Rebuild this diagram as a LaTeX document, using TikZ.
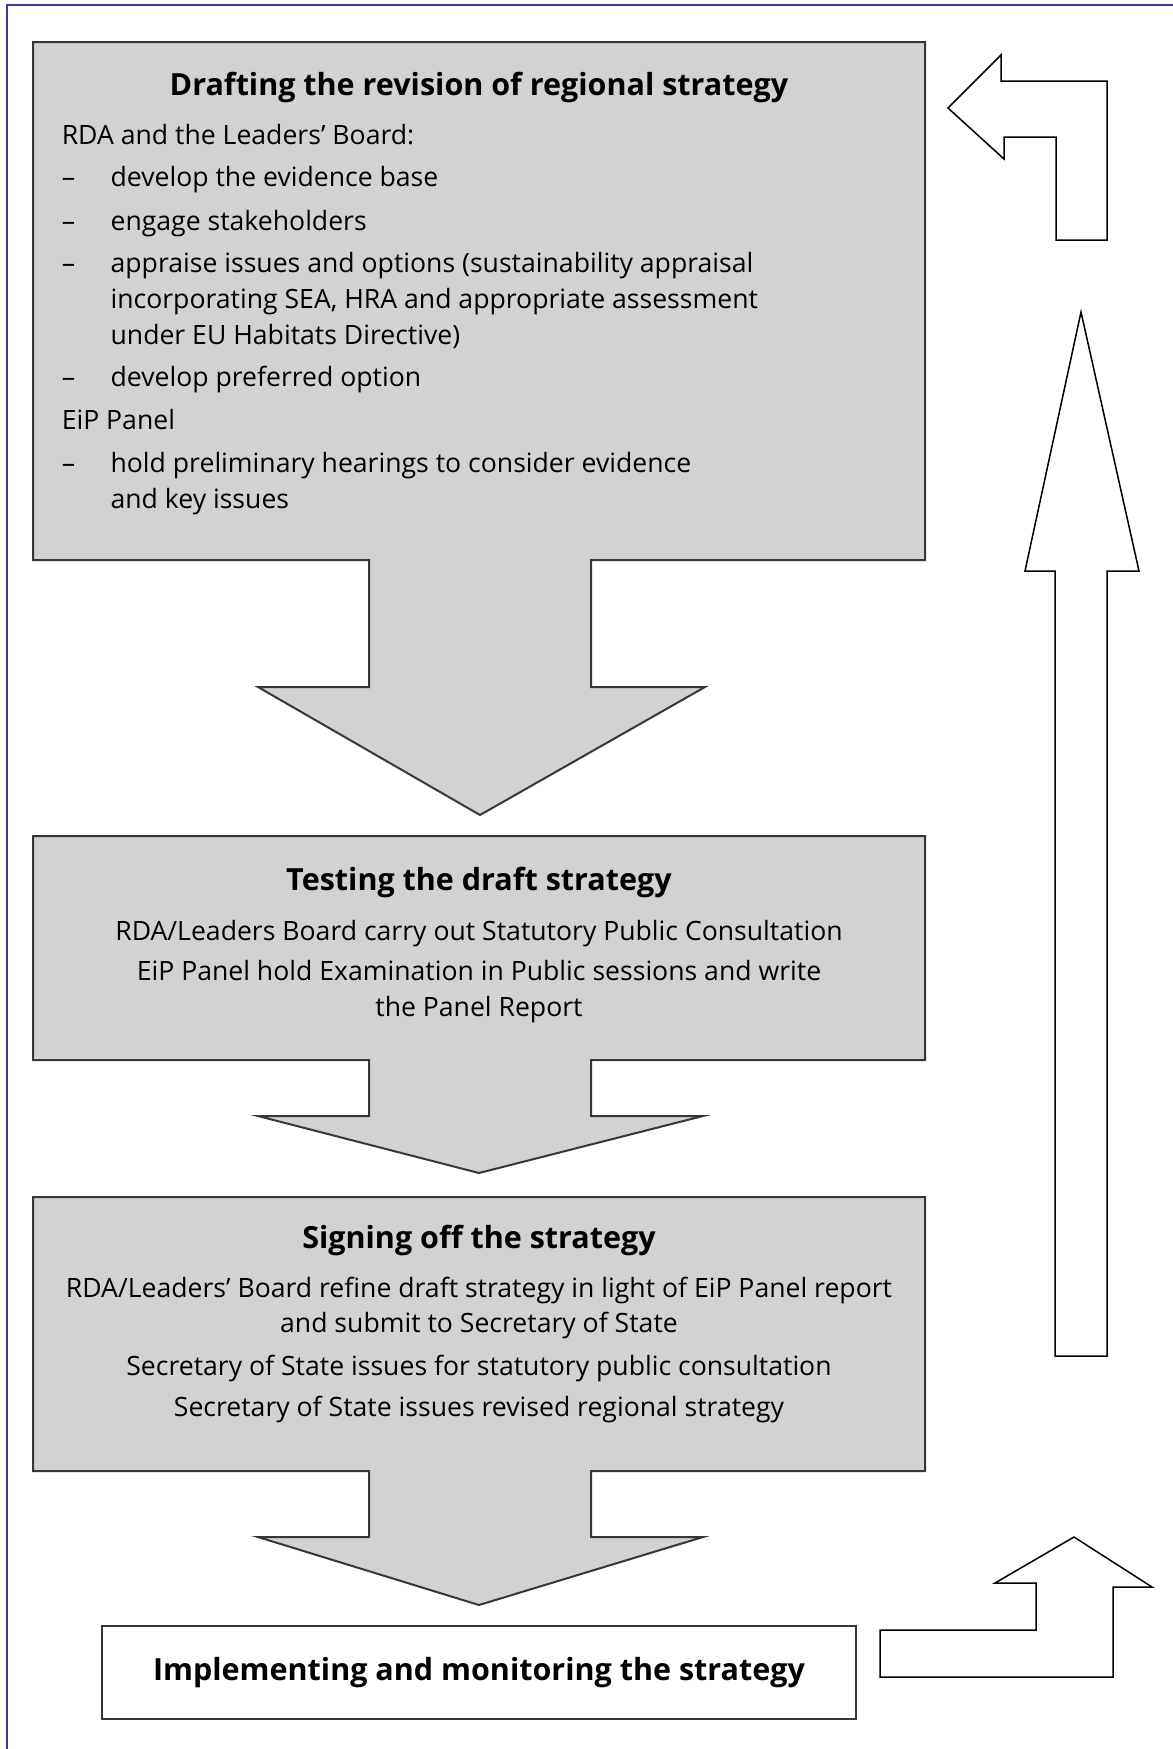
\documentclass[tikz,border=0pt]{standalone}
\usepackage{fontspec}
\setmainfont{Open Sans}
\usetikzlibrary{positioning}
\definecolor{stagegrey}{RGB}{209,211,211}
\definecolor{framepurple}{RGB}{58,56,150}
\definecolor{edgegrey}{RGB}{55,55,55}
\newcommand{\bodyfont}{\fontsize{26.6}{36}\selectfont}
\newcommand{\headfont}{\fontsize{30.5}{36}\selectfont\bfseries}
\begin{document}
\begin{tikzpicture}[
  x=1pt, y=-1pt,
  stage/.style={fill=stagegrey, draw=edgegrey, line width=2pt, line join=miter},
  cycle arrow/.style={fill=white, draw=black, line width=1.5pt, line join=miter},
  heading/.style={font=\headfont, inner sep=0pt, anchor=base},
  body/.style={font=\bodyfont, inner sep=0pt, anchor=base west},
  centred/.style={font=\bodyfont, inner sep=0pt, anchor=base},
  listdash/.style={font=\bodyfont, inner sep=0pt, anchor=base west}
]
\useasboundingbox (0,0) rectangle (1173,1749);
% page frame
\draw[framepurple, line width=2pt] (7,1749) -- (7,5) -- (1173,5);

% Stage outlines with their down arrows
\filldraw[stage] (33,42) -- (925,42) -- (925,560) -- (591,560) -- (591,687) -- (705,687)
  -- (480,815) -- (258,687) -- (369,687) -- (369,560) -- (33,560) -- cycle;
\filldraw[stage] (33,836) -- (925,836) -- (925,1060) -- (591,1060) -- (591,1116) -- (703,1116)
  -- (479,1173) -- (258,1116) -- (369,1116) -- (369,1060) -- (33,1060) -- cycle;
\filldraw[stage] (33,1197) -- (925,1197) -- (925,1471) -- (591,1471) -- (591,1537) -- (703,1537)
  -- (479,1605) -- (258,1537) -- (369,1537) -- (369,1471) -- (33,1471) -- cycle;

% Drafting
\node[heading] (drafthead) at (479,95) {Drafting the revision of regional strategy};
\node[body] (rda) at (61.6,144) {RDA and the Leaders’ Board:};
\node[listdash] (dash1) at (61.6,186.7) {–};
\node[body] (evidence) at (110.4,186.7) {develop the evidence base};
\node[listdash] (dash2) at (61.6,230) {–};
\node[body] (engage) at (110.4,230) {engage stakeholders};
\node[listdash] (dash3) at (61.6,272.3) {–};
\node[body] (appraiseA) at (110.4,272.3) {appraise issues and options (sustainability appraisal};
\node[body] (appraiseB) at (110.4,308.3) {incorporating SEA, HRA and appropriate assessment};
\node[body] (appraiseC) at (110.4,344) {under EU Habitats Directive)};
\node[listdash] (dash4) at (61.6,386.7) {–};
\node[body] (preferred) at (110.4,386.7) {develop preferred option};
\node[body] (eip) at (61.6,429.3) {EiP Panel};
\node[listdash] (dash5) at (61.6,472.3) {–};
\node[body] (hearingsA) at (110.4,472.3) {hold preliminary hearings to consider evidence};
\node[body] (hearingsB) at (110.4,508) {and key issues};

% Testing
\node[heading] (testhead) at (479,890) {Testing the draft strategy};
\node[centred] (consult) at (479,940) {RDA/Leaders Board carry out Statutory Public Consultation};
\node[centred] (examA) at (479,980) {EiP Panel hold Examination in Public sessions and write};
\node[centred] (examB) at (479,1016.7) {the Panel Report};

% Signing off
\node[heading] (signhead) at (479,1248) {Signing off the strategy};
\node[centred] (refineA) at (479,1297.3) {RDA/Leaders’ Board refine draft strategy in light of EiP Panel report};
\node[centred] (refineB) at (479,1332.7) {and submit to Secretary of State};
\node[centred] (issues) at (479,1375) {Secretary of State issues for statutory public consultation};
\node[centred] (revised) at (479,1416.7) {Secretary of State issues revised regional strategy};

% Implementing
\node[draw=edgegrey, line width=2pt, fill=white, minimum width=754pt, minimum height=93pt,
  font=\headfont, text height=20pt, text depth=5pt] (implement) at (479,1672.5)
  {Implementing and monitoring the strategy};

% Return arrows
\filldraw[cycle arrow] (880,1630) -- (1036,1630) -- (1036,1583) -- (995,1583) -- (1074,1537)
  -- (1152,1587) -- (1113,1587) -- (1113,1677) -- (880,1677) -- cycle;
\filldraw[cycle arrow] (1081,312) -- (1139,571) -- (1107,571) -- (1107,1356) -- (1055,1356)
  -- (1055,571) -- (1025,571) -- cycle;
\filldraw[cycle arrow] (948,108) -- (1001,55) -- (1001,81) -- (1107,81) -- (1107,240)
  -- (1056,240) -- (1056,137) -- (1004,137) -- (1004,159) -- cycle;
\end{tikzpicture}
\end{document}
